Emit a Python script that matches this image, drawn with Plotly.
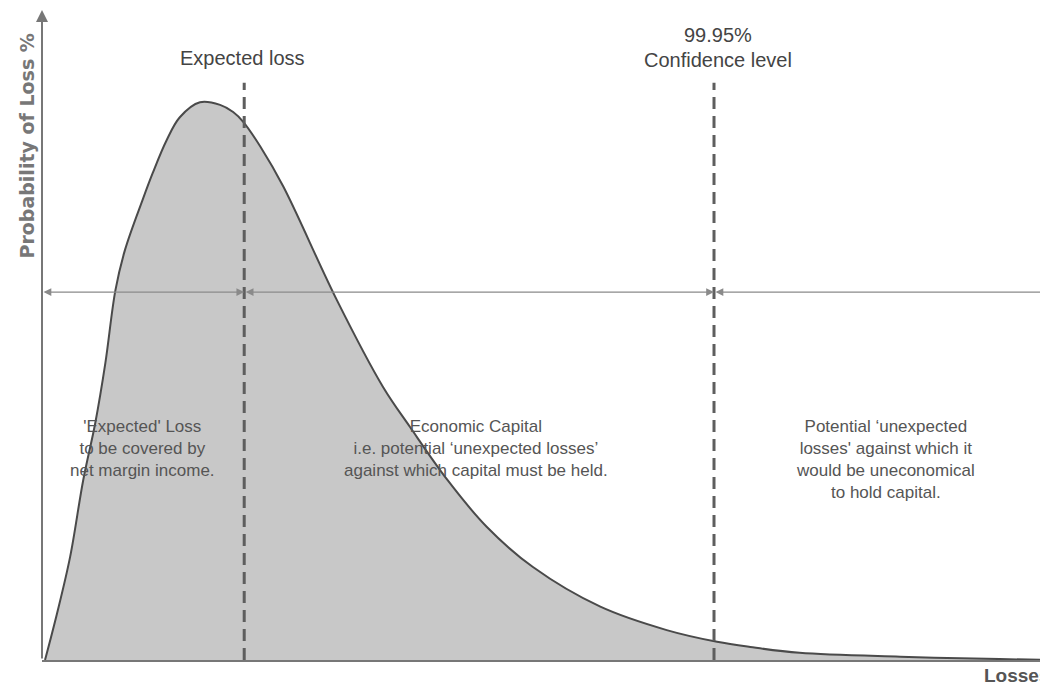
import plotly.graph_objects as go

# Loss distribution curve (losses vs probability, arbitrary units)
loss_x = [0.3, 1.5, 2.8, 4.1, 5.3, 6.3, 7.3, 8.25, 10.0, 11.0, 12.4, 13.7, 15.7, 17.7, 19.0, 20.0, 21.7, 24.0,
          29.3, 33.9, 36.6, 40.3, 44.2, 48.8, 55.5, 62.1, 67.1, 70.4, 75.3, 85.3, 95.2, 100.0]
prob_y = [0.0, 7.2, 15.9, 27.7, 36.5, 45.7, 56.9, 63.1, 70.8, 74.9, 80.0, 83.5, 85.8, 85.4, 84.3, 82.8, 79.0, 72.8,
          55.4, 42.0, 35.8, 27.7, 20.5, 14.3, 8.2, 4.6, 2.8, 2.0, 1.1, 0.5, 0.15, 0.0]

expected_loss_x = 20.1
confidence_x = 66.8
marker_top = 88.8
arrow_y = 56.6
segment_bounds = [0, expected_loss_x, confidence_x, 100]

FONT = "Liberation Sans, Arial, sans-serif"
TXT = "#555555"

fig = go.Figure()
fig.add_trace(go.Scatter(
    x=loss_x, y=prob_y, mode="lines", line=dict(color="#4a4a4a", width=2, shape="spline", smoothing=1.0),
    fill="tozeroy", fillcolor="#c8c8c8", hoverinfo="skip", showlegend=False))

for vx in [expected_loss_x, confidence_x]:
    fig.add_trace(go.Scatter(
        x=[vx, vx], y=[0, marker_top], mode="lines",
        line=dict(color="#5e5e5e", width=3, dash="12px,7px"), hoverinfo="skip", showlegend=False))

annotations = []
# horizontal double arrows
for i in range(3):
    a, b = segment_bounds[i], segment_bounds[i + 1]
    annotations.append(dict(
        x=b, y=arrow_y, ax=a, ay=arrow_y, xref="x", yref="y", axref="x", ayref="y",
        text="", showarrow=True, arrowhead=2, startarrowhead=2, arrowsize=1.2, startarrowsize=1.2,
        arrowwidth=1.3, arrowcolor="#8a8a8a",
        arrowside="start" if i == 2 else "end+start", standoff=0, startstandoff=0))
# y axis arrow
annotations.append(dict(
    x=0, y=100, ax=0, ay=0, xref="x", yref="y", axref="x", ayref="y", text="",
    showarrow=True, arrowhead=2, arrowsize=1.2, arrowwidth=2, arrowcolor="#777777", standoff=0))

annotations += [
    dict(x=19.9, y=92.6, xref="x", yref="y", text="Expected loss", showarrow=False,
         font=dict(family=FONT, size=20, color="#444444")),
    dict(x=67.2, y=96.2, xref="x", yref="y", text="99.95%", showarrow=False,
         font=dict(family=FONT, size=20, color="#444444")),
    dict(x=67.2, y=92.3, xref="x", yref="y", text="Confidence level", showarrow=False,
         font=dict(family=FONT, size=20, color="#444444")),
    dict(x=9.94, y=32.5, xref="x", yref="y",
         text="'Expected' Loss<br>to be covered by<br>net margin income.", showarrow=False,
         font=dict(family=FONT, size=17, color=TXT)),
    dict(x=43.1, y=32.5, xref="x", yref="y",
         text="Economic Capital<br>i.e. potential ‘unexpected losses’<br>against which capital must be held.",
         showarrow=False, font=dict(family=FONT, size=17, color=TXT)),
    dict(x=83.8, y=30.8, xref="x", yref="y",
         text="Potential ‘unexpected<br>losses' against which it<br>would be uneconomical<br>to hold capital.",
         showarrow=False, font=dict(family=FONT, size=17, color=TXT)),
    dict(x=-0.0149, y=0.79, xref="paper", yref="paper", text="<b>Probability of Loss %</b>",
         textangle=-90, showarrow=False, xanchor="center", yanchor="middle",
         font=dict(family="DejaVu Sans, sans-serif", size=19, color="#777777")),
    dict(x=0.934, y=-0.0246, xref="paper", yref="paper", text="<b>Losses</b>", showarrow=False,
         xanchor="left", yanchor="middle", font=dict(family=FONT, size=19, color=TXT)),
]

# page has an 8px body margin: plot area spans page x 42..1048, y 10..660
fig.update_layout(
    width=1040, height=676, margin=dict(l=34, r=0, t=2, b=24),
    paper_bgcolor="white", plot_bgcolor="white", annotations=annotations,
    xaxis=dict(range=[0, 100], showgrid=False, zeroline=False, showticklabels=False, ticks="",
               showline=True, linecolor="#777777", linewidth=2, fixedrange=True),
    yaxis=dict(range=[0, 100], showgrid=False, zeroline=False, showticklabels=False, ticks="",
               showline=False, fixedrange=True),
)

fig.write_html("out.html")
